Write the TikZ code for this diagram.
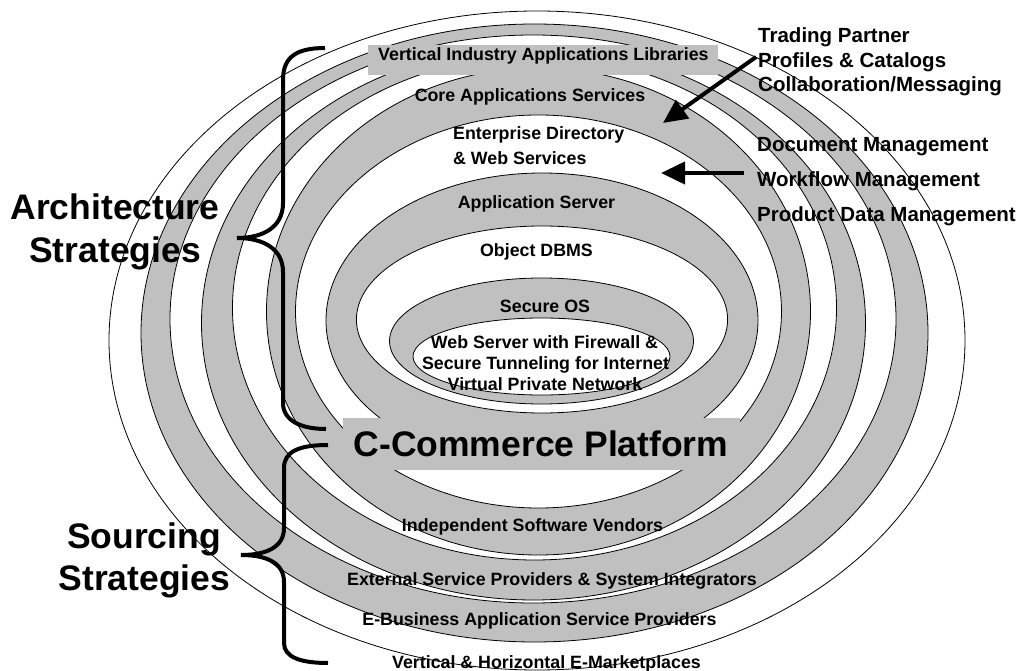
\documentclass[tikz,border=0pt]{standalone}
\usepackage{fontspec}
\setmainfont{Liberation Sans}
\usetikzlibrary{arrows.meta}
\definecolor{band}{RGB}{192,192,192}
\begin{document}
\begin{tikzpicture}[x=1pt,y=-1pt,
  ring/.style={draw=black, line width=0.8pt},
  grayring/.style={ring, fill=band},
  whitering/.style={ring, fill=white},
  lbl/.style={font=\bfseries\fontsize{17.8}{20.5}\selectfont, inner sep=0pt, anchor=base},
  lblw/.style={lbl, anchor=base west},
  big/.style={font=\bfseries\fontsize{35.5}{43}\selectfont, inner sep=0pt, anchor=base},
  side/.style={font=\bfseries\fontsize{20.5}{24}\selectfont, inner sep=0pt, anchor=base west},
  bandbox/.style={fill=band, draw=none},
  brace/.style={line width=4pt},
  bigarrow/.style={line width=4pt, -{Triangle[length=24pt,width=22pt]}}
]
\useasboundingbox (0,0) rectangle (1021,671);

% nested rings, outside to inside
\path[whitering] (537,340.5)   ellipse [x radius=428pt,   y radius=329.5pt];
\path[grayring]  (534.5,333)   ellipse [x radius=393.5pt, y radius=309pt];
\path[whitering] (533,319)     ellipse [x radius=363pt,   y radius=284pt];
\path[grayring]  (533.5,323)   ellipse [x radius=332pt,   y radius=277pt];
\path[whitering] (534.5,308)   ellipse [x radius=302pt,   y radius=252pt];
\path[grayring]  (538.5,311.5) ellipse [x radius=272pt,   y radius=243.5pt];
\path[whitering] (538.5,311.5) ellipse [x radius=243pt,   y radius=196.5pt];
\path[grayring]  (542,320.5)   ellipse [x radius=216pt,   y radius=147.5pt];
\path[whitering] (542,319.5)   ellipse [x radius=185.6pt, y radius=93.5pt];
\path[grayring]  (541.5,341)   ellipse [x radius=152pt,   y radius=63pt];
\path[whitering] (541.5,356.5) ellipse [x radius=128.5pt, y radius=38.5pt];

% label boxes
\fill[band] (368,45) rectangle (718,75);
\fill[band] (343,418) rectangle (740,470);

% ring labels
\node[lbl] (vial) at (543.4,61) {Vertical Industry Applications Libraries};
\node[lbl] (core) at (530,102) {Core Applications Services};
\node[lblw] (ent1) at (453,139.5) {Enterprise Directory};
\node[lblw] (ent2) at (453,164.3) {\& Web Services};
\node[lbl] (apps) at (536.5,209) {Application Server};
\node[lbl] (odb) at (536.5,257) {Object DBMS};
\node[lbl] (sos) at (545,312.7) {Secure OS};
\node[lbl] (web1) at (544.5,348.5) {Web Server with Firewall \&};
\node[lbl] (web2) at (545.5,369.5) {Secure Tunneling for Internet};
\node[lbl] (web3) at (545,390.5) {Virtual Private Network};
\node[big] (ccp) at (541,456.5) {C-Commerce Platform};
\node[lbl] (isv) at (532.5,531.5) {Independent Software Vendors};
\node[lbl] (esp) at (552,585) {External Service Providers \& System Integrators};
\node[lbl] (ebus) at (539.5,625) {E-Business Application Service Providers};
\node[lbl] (vhm) at (546.5,668) {Vertical \& Horizontal E-Marketplaces};

% strategy labels
\node[big] (arch1) at (115,220) {Architecture};
\node[big] (arch2) at (115,263) {Strategies};
\node[big] (src1) at (144,548.5) {Sourcing};
\node[big] (src2) at (144.5,590) {Strategies};

% right-side labels
\node[side] (tp1) at (758,43) {Trading Partner};
\node[side] (tp2) at (758,67.5) {Profiles \& Catalogs};
\node[side] (tp3) at (758,91.5) {Collaboration/Messaging};
\node[side] (dm1) at (757,151.5) {Document Management};
\node[side] (dm2) at (757,186.5) {Workflow Management};
\node[side] (dm3) at (757,221.5) {Product Data Management};

% arrows
\coordinate (a1s) at (756,57);
\coordinate (a1e) at (663,123);
\coordinate (a2s) at (744,173);
\coordinate (a2e) at (661,173);
\draw[bigarrow] (a1s) -- (a1e);
\draw[bigarrow] (a2s) -- (a2e);

% braces
\draw[brace] (325,48) .. controls (295,48) and (283,58) .. (283,80) -- (283,203)
  .. controls (283,228) and (262,238) .. (237,238)
  .. controls (262,238) and (283,248) .. (283,272) -- (283,403)
  .. controls (283,420) and (300,429) .. (326,429);
\draw[brace] (328,445) .. controls (298,445) and (284,452) .. (284,468) -- (284,528)
  .. controls (284,548) and (265,555) .. (241,555)
  .. controls (265,555) and (284,562) .. (284,582) -- (284,643)
  .. controls (284,657) and (300,663) .. (328,663);
\end{tikzpicture}
\end{document}
